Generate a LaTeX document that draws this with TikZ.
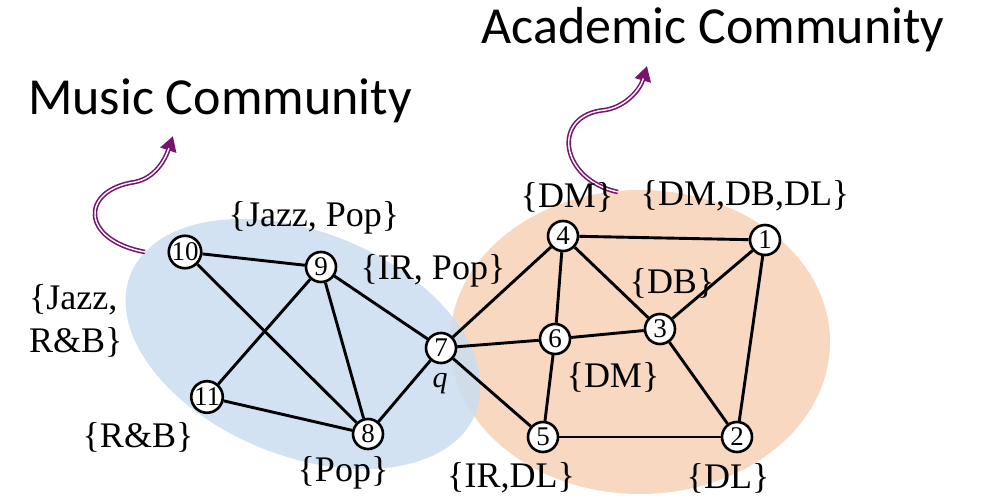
\documentclass[tikz,border=0pt]{standalone}
\usepackage{fontspec}
\setmainfont{Liberation Serif}
\newfontfamily\carlitofont{Carlito}
\usetikzlibrary{arrows.meta}
\definecolor{musicblue}{RGB}{202,221,240}
\definecolor{acadorange}{RGB}{248,216,192}
\definecolor{arrpurple}{RGB}{120,20,110}
\tikzset{
  vtx/.style={circle,draw=black,fill=white,line width=2.6pt,minimum size=30pt,inner sep=0pt,font=\fontsize{27}{27}\selectfont},
  edge/.style={line width=2.9pt,black},
  lbl/.style={font=\fontsize{36}{40}\selectfont,inner sep=0pt},
  title/.style={font=\carlitofont\fontsize{52}{56}\selectfont,inner sep=0pt},
  curlout/.style={arrpurple,line width=4.6pt,-{Triangle[length=15pt,width=16pt]}},
  curlin/.style={white,line width=1.4pt,shorten >=13pt}
}
\begin{document}
\begin{tikzpicture}[x=1pt,y=-1pt]
\useasboundingbox (0,0) rectangle (981,502);
% community regions
\fill[acadorange] (640,342) ellipse [x radius=190, y radius=152];
\fill[musicblue,opacity=0.85,rotate around={-22:(303,344)}] (303,344) ellipse [x radius=186, y radius=112];
% titles
\node[title] (tacad) at (713,30) {Academic Community};
\node[title] (tmusic) at (220,101) {Music Community};
% curly arrows
\coordinate (ms) at (145,252);
\coordinate (me) at (173,136);
\coordinate (as) at (618,192);
\coordinate (ae) at (647,66);
\draw[curlout] (ms) .. controls (80,240) and (80,190) .. (135,182) .. controls (155,178) and (165,160) .. (me);
\draw[curlin] (ms) .. controls (80,240) and (80,190) .. (135,182) .. controls (155,178) and (165,160) .. (me);
\draw[curlout] (as) .. controls (560,180) and (550,115) .. (605,110) .. controls (625,107) and (640,90) .. (ae);
\draw[curlin] (as) .. controls (560,180) and (550,115) .. (605,110) .. controls (625,107) and (640,90) .. (ae);
% vertices
\node[vtx] (n10) at (185,252) {10};
\node[vtx] (n9) at (321,267) {9};
\node[vtx] (n11) at (207,397) {11};
\node[vtx] (n8) at (368,434) {8};
\node[vtx] (n7) at (441,348) {7};
\node[vtx] (n4) at (563,236) {4};
\node[vtx] (n1) at (765,240) {1};
\node[vtx] (n6) at (555,339) {6};
\node[vtx] (n3) at (660,329) {3};
\node[vtx] (n5) at (543,437) {5};
\node[vtx] (n2) at (737,437) {2};
% edges
\foreach \a/\b in {n10/n9,n10/n8,n9/n11,n9/n8,n9/n7,n11/n8,n8/n7,n7/n4,n7/n6,n7/n5,n4/n1,n4/n6,n4/n3,n6/n3,n6/n5,n3/n1,n3/n2,n1/n2,n5/n2}
  \draw[edge] (\a) -- (\b);
% labels
\node[lbl] (l9) at (314,218) {\{Jazz, Pop\}};
\node[lbl] (l7) at (433,271) {\{IR, Pop\}};
\node[lbl,anchor=west,align=left,font=\fontsize{36}{43}\selectfont] (l10) at (29,321) {\{Jazz,\\R\&B\}};
\node[lbl] (l11) at (138,437) {\{R\&B\}};
\node[lbl] (l8) at (343,473) {\{Pop\}};
\node[font=\itshape\fontsize{30}{30}\selectfont,inner sep=0pt] (lq) at (440,384) {q};
\node[lbl] (l5) at (511,478) {\{IR,DL\}};
\node[lbl] (l4) at (567,197) {\{DM\}};
\node[lbl] (l1) at (745,196) {\{DM,DB,DL\}};
\node[lbl] (l3) at (672,283) {\{DB\}};
\node[lbl] (l6) at (613,377) {\{DM\}};
\node[lbl] (l2) at (728,478) {\{DL\}};
\end{tikzpicture}
\end{document}
